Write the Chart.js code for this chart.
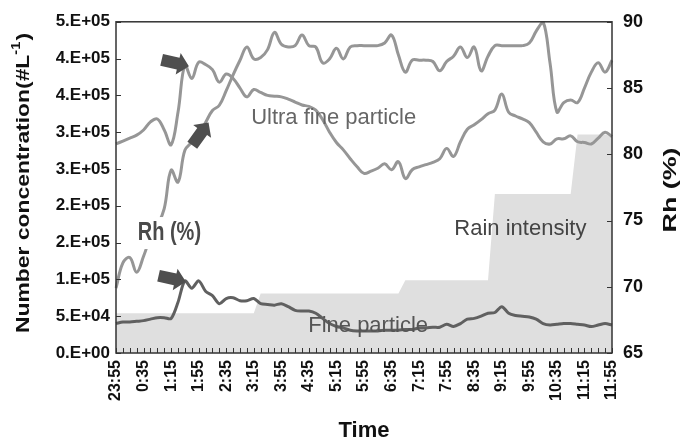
<!DOCTYPE html>
<html lang="en">
<head>
<meta charset="UTF-8" />
<title>Number concentration, Rh and rain intensity</title>
<style>
  body { margin: 0; background: #fff; }
  #wrap { width: 685px; height: 444px; }
</style>
</head>
<body>
<div id="wrap"><canvas id="chart"></canvas></div>
<script src="https://cdn.jsdelivr.net/npm/chart.js"></script>
<script>
// 10-minute samples, 23:55 to 11:55
const times = [
  '23:55',
  '0:05', '0:15', '0:25', '0:35', '0:45', '0:55',
  '1:05', '1:15', '1:25', '1:35', '1:45', '1:55',
  '2:05', '2:15', '2:25', '2:35', '2:45', '2:55',
  '3:05', '3:15', '3:25', '3:35', '3:45', '3:55',
  '4:05', '4:15', '4:25', '4:35', '4:45', '4:55',
  '5:05', '5:15', '5:25', '5:35', '5:45', '5:55',
  '6:05', '6:15', '6:25', '6:35', '6:45', '6:55',
  '7:05', '7:15', '7:25', '7:35', '7:45', '7:55',
  '8:05', '8:15', '8:25', '8:35', '8:45', '8:55',
  '9:05', '9:15', '9:25', '9:35', '9:45', '9:55',
  '10:05', '10:15', '10:25', '10:35', '10:45', '10:55',
  '11:05', '11:15', '11:25', '11:35', '11:45', '11:55'
];
const timeTickLabels = ['23:55', '0:35', '1:15', '1:55', '2:35', '3:15', '3:55', '4:35', '5:15', '5:55',
  '6:35', '7:15', '7:55', '8:35', '9:15', '9:55', '10:35', '11:15', '11:55'];
const leftTickLabels = ['0.E+00', '5.E+04', '1.E+05', '2.E+05', '2.E+05', '3.E+05', '3.E+05', '4.E+05', '4.E+05', '5.E+05'];

const ultraFine = [
  284000, 288000, 292000, 296000, 303000, 314000, 318000, 303000, 283000, 327000,
  391000, 373000, 395000, 392000, 385000, 368000, 379000, 373000, 360000, 348000,
  358000, 354000, 350000, 349000, 348000, 345000, 341000, 337000, 335000, 330000,
  317000, 300000, 286000, 276000, 264000, 253000, 244000, 247000, 251000, 257000,
  249000, 260000, 237000, 249000, 253000, 256000, 259000, 264000, 278000, 267000,
  287000, 304000, 310000, 317000, 325000, 330000, 352000, 327000, 322000, 318000,
  313000, 300000, 287000, 284000, 291000, 291000, 295000, 287000, 286000, 284000,
  292000, 300000, 294000
];
const fineParticle = [
  40000, 42000, 42000, 43000, 44000, 46000, 48000, 48000, 47000, 69000,
  98000, 88000, 98000, 84000, 78000, 67000, 74000, 75000, 71000, 71000,
  74000, 67000, 66000, 65000, 67000, 63000, 58000, 57000, 57000, 54000,
  47000, 40000, 36000, 34000, 31000, 30000, 30000, 30000, 30000, 31000,
  31000, 31000, 32000, 32000, 34000, 34000, 35000, 35000, 39000, 36000,
  40000, 46000, 47000, 50000, 54000, 55000, 63000, 54000, 51000, 50000,
  49000, 46000, 40000, 38000, 39000, 40000, 40000, 39000, 38000, 36000,
  38000, 40000, 38000
];
const rh = [
  69.9, 71.8, 72.2, 71.1, 72.3, 73.7, 74.6, 75.9, 78.8, 77.9,
  80.3, 80.9, 81.5, 82.4, 83.3, 83.7, 84.8, 86.0, 87.1, 88.1,
  87.2, 87.3, 87.9, 89.2, 88.3, 88.1, 88.2, 89.0, 88.2, 88.1,
  86.9, 87.2, 88.0, 87.2, 88.1, 88.2, 88.2, 88.2, 88.2, 88.4,
  89.0, 87.5, 86.2, 87.1, 87.1, 87.1, 87.0, 86.3, 87.0, 87.4,
  88.1, 87.3, 88.1, 86.3, 87.4, 88.2, 88.2, 88.2, 88.2, 88.2,
  88.4, 89.3, 90.0, 86.9, 83.2, 83.9, 84.1, 83.9, 85.0, 86.2,
  86.9, 86.2, 87.1
];
const rainIntensity = [
  1.2, 1.2, 1.2, 1.2, 1.2, 1.2, 1.2, 1.2, 1.2, 1.2,
  1.2, 1.2, 1.2, 1.2, 1.2, 1.2, 1.2, 1.2, 1.2, 1.2,
  1.2, 1.8, 1.8, 1.8, 1.8, 1.8, 1.8, 1.8, 1.8, 1.8,
  1.8, 1.8, 1.8, 1.8, 1.8, 1.8, 1.8, 1.8, 1.8, 1.8,
  1.8, 1.8, 2.2, 2.2, 2.2, 2.2, 2.2, 2.2, 2.2, 2.2,
  2.2, 2.2, 2.2, 2.2, 2.2, 4.8, 4.8, 4.8, 4.8, 4.8,
  4.8, 4.8, 4.8, 4.8, 4.8, 4.8, 4.8, 6.6, 6.6, 6.6,
  6.6, 6.6, 6.6
];

const FONT = "'Liberation Sans', Arial, sans-serif";

function arrow(ctx, x, y, angle) {
  // block arrow, tip at (x, y)
  ctx.save();
  ctx.translate(x, y);
  ctx.rotate(angle);
  ctx.beginPath();
  ctx.moveTo(0, 0);
  ctx.lineTo(-11, -11);
  ctx.lineTo(-11, -6);
  ctx.lineTo(-28, -6);
  ctx.lineTo(-28, 6);
  ctx.lineTo(-11, 6);
  ctx.lineTo(-11, 11);
  ctx.closePath();
  ctx.fillStyle = '#4f4f4f';
  ctx.fill();
  ctx.restore();
}

const extras = {
  id: 'extras',
  afterDatasetsDraw(chart) {
    const ctx = chart.ctx;
    const a = chart.chartArea;
    const xs = chart.scales.x, ys = chart.scales.y, yr = chart.scales.y1;

    // frame + inside ticks
    ctx.save();
    ctx.strokeStyle = '#333';
    ctx.lineWidth = 1.5;
    ctx.strokeRect(a.left, a.top, a.right - a.left, a.bottom - a.top);
    ctx.lineWidth = 1;
    ctx.beginPath();
    for (let i = 0; i < times.length; i++) {
      const px = Math.round(xs.getPixelForValue(i)) + 0.5;
      ctx.moveTo(px, a.bottom);
      ctx.lineTo(px, a.bottom - 5);
    }
    ys.ticks.forEach(t => {
      const py = Math.round(ys.getPixelForValue(t.value)) + 0.5;
      ctx.moveTo(a.left, py);
      ctx.lineTo(a.left + 5, py);
    });
    yr.ticks.forEach(t => {
      const py = Math.round(yr.getPixelForValue(t.value)) + 0.5;
      ctx.moveTo(a.right, py);
      ctx.lineTo(a.right - 5, py);
    });
    ctx.stroke();
    ctx.restore();

    // arrows pointing at the jumps
    arrow(ctx, xs.getPixelForValue(10) + 4, ys.getPixelForValue(ultraFine[10]) + 1, 0.23);
    arrow(ctx, xs.getPixelForValue(13) + 3, yr.getPixelForValue(rh[13]) + 0, -0.95);
    arrow(ctx, xs.getPixelForValue(10) + 1, ys.getPixelForValue(fineParticle[10]) + 1, 0.22);

    // in-plot labels
    ctx.save();
    ctx.textAlign = 'center';
    ctx.textBaseline = 'middle';
    ctx.font = '22px ' + FONT;
    ctx.fillStyle = '#666';
    ctx.fillText('Ultra fine particle', xs.getPixelForValue(31.6), ys.getPixelForValue(320000));
    ctx.fillStyle = '#444';
    ctx.fillText('Rain intensity', xs.getPixelForValue(58.7), ys.getPixelForValue(169000));
    ctx.fillStyle = '#555';
    ctx.fillText('Fine particle', xs.getPixelForValue(36.6), ys.getPixelForValue(37000));

    const rx = xs.getPixelForValue(7.75), ry = ys.getPixelForValue(163000);
    ctx.fillStyle = '#fff';
    ctx.fillRect(rx - 34, ry - 16, 68, 32);
    ctx.font = 'bold 20px ' + FONT;
    ctx.fillStyle = '#4a4a4a';
    ctx.translate(rx, ry);
    ctx.scale(1, 1.3);
    ctx.fillText('Rh (%)', 0, 0);
    ctx.restore();

    // right axis title, reading upward
    ctx.save();
    ctx.font = 'bold 19px ' + FONT;
    ctx.fillStyle = '#111';
    ctx.textAlign = 'center';
    ctx.textBaseline = 'middle';
    ctx.translate(671, 190);
    ctx.rotate(-Math.PI / 2);
    const rw = ctx.measureText('Rh (%)').width;
    ctx.scale(85 / rw, 1);
    ctx.fillText('Rh (%)', 0, 0);
    ctx.restore();

    // left axis title with superscript
    ctx.save();
    ctx.fillStyle = '#111';
    ctx.textBaseline = 'middle';
    ctx.textAlign = 'left';
    ctx.translate(24, 183);
    ctx.rotate(-Math.PI / 2);
    const big = 'bold 19px ' + FONT, small = 'bold 12px ' + FONT;
    ctx.font = big;
    const w1 = ctx.measureText('Number concentration(#L').width;
    const w3 = ctx.measureText(')').width;
    ctx.font = small;
    const w2 = ctx.measureText('-1').width + 1;
    const total = w1 + w2 + w3;
    ctx.scale(300 / total, 1);
    let px = -total / 2;
    ctx.font = big;
    ctx.fillText('Number concentration(#L', px, 0);
    px += w1;
    ctx.font = small;
    ctx.fillText('-1', px, -7);
    px += w2;
    ctx.font = big;
    ctx.fillText(')', px, 0);
    ctx.restore();
  }
};

new Chart(document.getElementById('chart'), {
  type: 'line',
  data: {
    labels: times,
    datasets: [
      {
        label: 'Rain intensity',
        data: rainIntensity,
        yAxisID: 'yRain',
        fill: 'start',
        backgroundColor: '#dfdfdf',
        borderColor: 'rgba(0,0,0,0)',
        borderWidth: 0,
        pointRadius: 0,
        tension: 0,
        order: 10
      },
      {
        label: 'Ultra fine particle',
        data: ultraFine,
        yAxisID: 'y',
        borderColor: '#969696',
        borderWidth: 3,
        pointRadius: 0,
        tension: 0.4,
        order: 3
      },
      {
        label: 'Rh (%)',
        data: rh,
        yAxisID: 'y1',
        borderColor: '#969696',
        borderWidth: 3,
        pointRadius: 0,
        tension: 0.4,
        order: 2
      },
      {
        label: 'Fine particle',
        data: fineParticle,
        yAxisID: 'y',
        borderColor: '#606060',
        borderWidth: 3,
        pointRadius: 0,
        tension: 0.3,
        order: 1
      }
    ]
  },
  options: {
    responsive: true,
    maintainAspectRatio: false,
    animation: false,
    layout: { padding: { top: 18 } },
    plugins: { legend: { display: false }, tooltip: { enabled: false } },
    scales: {
      x: {
        grid: { display: false, drawTicks: false },
        border: { display: false },
        ticks: {
          autoSkip: false,
          minRotation: 90,
          maxRotation: 90,
          padding: 7,
          color: '#111',
          font: { family: FONT, size: 16, weight: 'bold' },
          callback: (v, i) => timeTickLabels.includes(times[i]) ? times[i] : ''
        },
        title: {
          display: true,
          text: 'Time',
          color: '#111',
          font: { family: FONT, size: 22, weight: 'bold' },
          padding: { top: 0, bottom: 0 }
        },
        afterFit: s => { s.height = 91; }
      },
      y: {
        position: 'left',
        min: 0,
        max: 450000,
        grid: { display: false, drawTicks: false },
        border: { display: false },
        ticks: {
          stepSize: 50000,
          padding: 6,
          color: '#111',
          font: { family: FONT, size: 17, weight: 'bold' },
          callback: (v, i) => leftTickLabels[i]
        },
        afterFit: s => { s.width = 116; }
      },
      y1: {
        position: 'right',
        min: 65,
        max: 90,
        grid: { display: false, drawTicks: false },
        border: { display: false },
        ticks: {
          stepSize: 5,
          padding: 11,
          color: '#111',
          font: { family: FONT, size: 18, weight: 'bold' }
        },
        afterFit: s => { s.width = 73; }
      },
      yRain: { display: false, min: 0, max: 10 }
    }
  },
  plugins: [extras]
});
</script>
</body>
</html>
